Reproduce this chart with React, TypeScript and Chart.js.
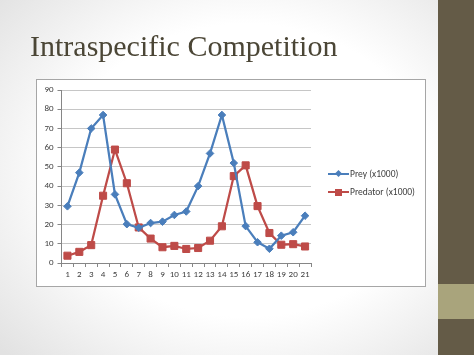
import React, { useEffect, useRef } from 'react';
import { Chart, registerables } from 'chart.js';
Chart.register(...registerables);

const titleText = 'Intraspecific Competition';
const categories = ['1','2','3','4','5','6','7','8','9','10','11','12','13','14','15','16','17','18','19','20','21'];
const preyLabel = 'Prey (x1000)';
const predatorLabel = 'Predator (x1000)';
const preyValues = [29.5, 47, 70, 77, 35.7, 20.2, 18.3, 20.8, 21.5, 25, 26.8, 40, 57, 77, 52, 19.2, 10.8, 7.4, 14.2, 16, 24.6];
const predatorValues = [3.8, 5.8, 9.3, 35, 59, 41.5, 18.5, 12.7, 8.2, 8.9, 7.3, 7.8, 11.6, 19.1, 45.2, 50.8, 29.6, 15.6, 9.5, 9.8, 8.6];
const yMin = 0;
const yMax = 90;
const yStep = 10;

const PREY_COLOR = '#4a7ebb';
const PRED_COLOR = '#be4b48';
const FONT = 'Carlito, Lato, "Liberation Sans", sans-serif';

export default function App() {
  const ref = useRef<HTMLCanvasElement | null>(null);
  useEffect(() => {
    document.body.style.margin = '0';
    const chart = new Chart(ref.current!, {
      type: 'line',
      data: {
        labels: categories,
        datasets: [
          {
            label: preyLabel,
            data: preyValues,
            borderColor: PREY_COLOR,
            backgroundColor: PREY_COLOR,
            borderWidth: 2.25,
            pointStyle: 'rectRot',
            pointRadius: 3.8,
            pointBorderWidth: 1,
            tension: 0,
          },
          {
            label: predatorLabel,
            data: predatorValues,
            borderColor: PRED_COLOR,
            backgroundColor: PRED_COLOR,
            borderWidth: 2.25,
            pointStyle: 'rect',
            pointRadius: 5,
            pointBorderWidth: 1,
            tension: 0,
          },
        ],
      },
      options: {
        animation: false,
        responsive: false,
        layout: { padding: { left: 0, top: 11, right: 115, bottom: 4 } },
        plugins: { legend: { display: false }, tooltip: { enabled: false } },
        scales: {
          x: {
            offset: true,
            grid: { display: true, offset: true, drawOnChartArea: false, drawTicks: true, tickLength: 4, color: '#868686' },
            border: { color: '#868686', width: 1 },
            ticks: { color: '#404040', font: { family: FONT, size: 9 }, maxRotation: 0, autoSkip: false, padding: 2 },
            afterFit: (s: any) => { s.height = 20; },
          },
          y: {
            min: yMin,
            max: yMax,
            ticks: { stepSize: yStep, color: '#404040', font: { family: FONT, size: 9 }, padding: 4 },
            grid: { color: '#c6c6c6', drawTicks: true, tickLength: 4, tickColor: '#868686' },
            border: { color: '#868686', width: 1 },
            afterFit: (s: any) => { s.width = 25.5; },
          },
        },
      },
    });
    return () => chart.destroy();
  }, []);

  const legendText: React.CSSProperties = { position: 'absolute', left: 350, fontFamily: FONT, fontSize: 9.5, color: '#404040', lineHeight: '10px', whiteSpace: 'nowrap' };

  return (
    <div style={{ position: 'fixed', left: 0, top: 0, width: 474, height: 355, overflow: 'hidden',
      background: 'radial-gradient(ellipse 70% 75% at 52% 48%, #ffffff 55%, #e2e2e2 100%)' }}>
      <div style={{ position: 'absolute', left: 438, top: 0, width: 36, height: 355, background: '#645b47' }} />
      <div style={{ position: 'absolute', left: 438, top: 284, width: 36, height: 35, background: '#a9a47c' }} />
      <div style={{ position: 'absolute', left: 30, top: 27, fontFamily: '"Liberation Serif", serif', fontSize: 30, color: '#4b4636', whiteSpace: 'nowrap', lineHeight: '38px' }}>{titleText}</div>
      <div style={{ position: 'absolute', left: 36, top: 79, width: 390, height: 208, boxSizing: 'border-box', border: '1px solid #a6a6a6', background: '#ffffff' }} />
      <canvas ref={ref} width={390} height={208} style={{ position: 'absolute', left: 36, top: 79, width: 390, height: 208 }} />
      <div style={{ position: 'absolute', left: 328, top: 173, width: 21, height: 2, background: PREY_COLOR }} />
      <div style={{ position: 'absolute', left: 335.5, top: 171, width: 5, height: 5, background: PREY_COLOR, transform: 'rotate(45deg)' }} />
      <div style={{ ...legendText, top: 169 }}>{preyLabel}</div>
      <div style={{ position: 'absolute', left: 328, top: 191, width: 21, height: 2, background: PRED_COLOR }} />
      <div style={{ position: 'absolute', left: 334.5, top: 188.5, width: 7, height: 7, background: PRED_COLOR }} />
      <div style={{ ...legendText, top: 187 }}>{predatorLabel}</div>
    </div>
  );
}
